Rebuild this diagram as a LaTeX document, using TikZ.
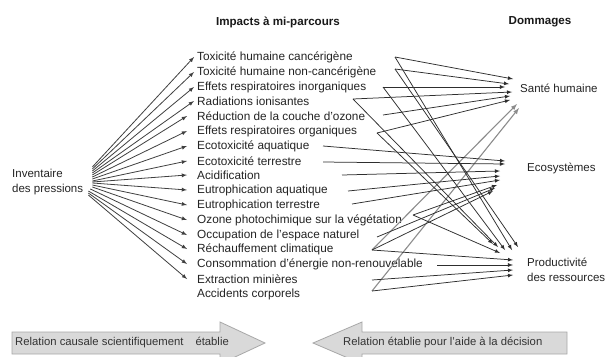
\documentclass[tikz,border=0pt]{standalone}
\usepackage{fontspec}
\setmainfont{Liberation Sans}
\usepackage{xcolor}
\usepackage{tikz}
\usetikzlibrary{arrows,positioning}

\definecolor{inkgray}{HTML}{242424}
\definecolor{linegray}{HTML}{2E2E2E}
\definecolor{boxfill}{HTML}{D9D9D9}
\definecolor{boxline}{HTML}{A8A8A8}

\tikzset{
  impact/.style={anchor=west, inner sep=1pt, text=inkgray, font=\fontsize{11.8}{13}\selectfont},
  damage/.style={anchor=west, inner sep=1pt, align=left, text=inkgray, font=\fontsize{11.5}{15}\selectfont},
  heading/.style={inner sep=1pt, text=black!90, font=\fontsize{11.6}{13}\selectfont\bfseries},
  fan/.style={->, >=latex, draw=black!75, line width=0.8pt},
  link/.style={->, >=latex, draw=linegray, line width=0.75pt},
  palelink/.style={->, >=latex, draw=black!45, line width=1.1pt},
  banner/.style={fill=boxfill, draw=boxline, line width=0.8pt},
  bannertext/.style={anchor=west, inner sep=1pt, text=black!80, font=\fontsize{11.3}{13}\selectfont},
}

\begin{document}
\begin{tikzpicture}[x=1pt, y=-1pt]
        \useasboundingbox[fill=white] (0,0) rectangle (607,356);

        % titres
        \node[heading] (midtitle) at (278,22) {Impacts à mi-parcours};
        \node[heading] (damtitle) at (540,22) {Dommages};

        % inventaire
        \node[damage] (inv) at (11,182) {Inventaire\\des pressions};

        % impacts a mi-parcours
        \node[impact] (i1) at (196,57) {Toxicité humaine cancérigène};
        \node[impact] (i2) at (196,72) {Toxicité humaine non-cancérigène};
        \node[impact] (i3) at (196,87) {Effets respiratoires inorganiques};
        \node[impact] (i4) at (196,101) {Radiations ionisantes};
        \node[impact] (i5) at (196,116) {Réduction de la couche d'ozone};
        \node[impact] (i6) at (196,131) {Effets respiratoires organiques};
        \node[impact] (i7) at (196,146) {Ecotoxicité aquatique};
        \node[impact] (i8) at (196,161) {Ecotoxicité terrestre};
        \node[impact] (i9) at (196,175) {Acidification};
        \node[impact] (i10) at (196,190) {Eutrophication aquatique};
        \node[impact] (i11) at (196,205) {Eutrophication terrestre};
        \node[impact] (i12) at (196,220) {Ozone photochimique sur la végétation};
        \node[impact] (i13) at (196,235) {Occupation de l'espace naturel};
        \node[impact] (i14) at (196,249) {Réchauffement climatique};
        \node[impact] (i15) at (196,264) {Consommation d'énergie non-renouvelable};
        \node[impact] (i16) at (196,279) {Extraction minières};
        \node[impact] (i17) at (196,294) {Accidents corporels};

        % dommages
        \node[damage] (sante) at (519,88) {Santé humaine};
        \node[damage] (eco) at (526,168) {Ecosystèmes};
        \node[damage] (prod) at (526,270) {Productivité\\des ressources};

        % inventaire -> impacts
        \draw[fan] ([xshift=8pt,yshift=15pt]inv.east) -- ([xshift=-2pt]i1.west);
        \draw[fan] ([xshift=8pt,yshift=13pt]inv.east) -- ([xshift=-2pt]i2.west);
        \draw[fan] ([xshift=8pt,yshift=11pt]inv.east) -- ([xshift=-2pt]i3.west);
        \draw[fan] ([xshift=8pt,yshift=9pt]inv.east) -- ([xshift=-2pt]i4.west);
        \draw[fan] ([xshift=8pt,yshift=7pt]inv.east) -- ([xshift=-9pt]i5.west);
        \draw[fan] ([xshift=8pt,yshift=5pt]inv.east) -- ([xshift=-9pt]i6.west);
        \draw[fan] ([xshift=8pt,yshift=3pt]inv.east) -- ([xshift=-9pt]i7.west);
        \draw[fan] ([xshift=8pt,yshift=1pt]inv.east) -- ([xshift=-9pt]i8.west);
        \draw[fan] ([xshift=8pt,yshift=0pt]inv.east) -- ([xshift=-9pt]i9.west);
        \draw[fan] ([xshift=8pt,yshift=-1pt]inv.east) -- ([xshift=-9pt]i10.west);
        \draw[fan] ([xshift=8pt,yshift=-3pt]inv.east) -- ([xshift=-9pt]i11.west);
        \draw[fan] ([xshift=8pt,yshift=-5pt]inv.east) -- ([xshift=-9pt]i12.west);
        \draw[fan] ([xshift=6pt,yshift=-7pt]inv.east) -- ([xshift=-9pt]i13.west);
        \draw[fan] ([xshift=4pt,yshift=-9pt]inv.east) -- ([xshift=-9pt]i14.west);
        \draw[fan] ([xshift=4pt,yshift=-11pt]inv.east) -- ([xshift=-9pt]i15.west);
        \draw[fan] ([xshift=4pt,yshift=-13pt]inv.east) -- ([xshift=-9pt]i16.west);

        % points de depart vers les dommages
        \coordinate (o1) at (395,57);
        \coordinate (o2) at (395,69);
        \coordinate (o3) at (383,87);
        \coordinate (o4) at (353,99);
        \coordinate (o5) at (383,115);
        \coordinate (o6) at (377,133);
        \coordinate (o7) at (323,146);
        \coordinate (o8) at (323,162);
        \coordinate (o9) at (342,175);
        \coordinate (o10) at (348,191);
        \coordinate (o11) at (352,204);
        \coordinate (o12) at (413,215);
        \coordinate (o13) at (377,237);
        \coordinate (o14) at (372,250);
        \coordinate (o15) at (437,265);
        \coordinate (o16) at (372,280);
        \coordinate (o17) at (372,291);

        % -> sante humaine
        \draw[link] (o1) -- ([shift={(-6,-9)}]sante.west);
        \draw[link] (o2) -- ([shift={(-10,-4)}]sante.west);
        \draw[link] (o3) -- ([shift={(-14,-1)}]sante.west);
        \draw[link] (o4) -- ([shift={(-7,4)}]sante.west);
        \draw[link] (o5) -- ([shift={(-9,8)}]sante.west);
        \draw[link] (o6) -- ([shift={(-9,12)}]sante.west);
        \draw[palelink] (o14) -- ([shift={(-2,16)}]sante.west);
        \draw[palelink] (o17) -- ([shift={(0,20)}]sante.west);

        % -> ecosystemes
        \draw[link] (o7) -- ([shift={(-21,-7)}]eco.west);
        \draw[link] (o8) -- ([shift={(-21,-4)}]eco.west);
        \draw[link] (o9) -- ([shift={(-26,3)}]eco.west);
        \draw[link] (o10) -- ([shift={(-26,8)}]eco.west);
        \draw[link] (o11) -- ([shift={(-26,12)}]eco.west);
        \draw[link] (o12) -- ([shift={(-29,17)}]eco.west);
        \draw[link] (o13) -- ([shift={(-31,20)}]eco.west);
        \draw[link] (o14) -- ([shift={(-33,23)}]eco.west);

        % -> productivite des ressources
        \draw[link] (o1) -- ([shift={(-14,-20)}]prod.west);
        \draw[link] (o2) -- ([shift={(-8,-23)}]prod.west);
        \draw[link] (o3) -- ([shift={(-21,-20)}]prod.west);
        \draw[link] (o4) -- ([shift={(-28,-23)}]prod.west);
        \draw[link] (o6) -- ([shift={(-33,-26)}]prod.west);
        \draw[link] (o12) -- ([shift={(-26,-17)}]prod.west);
        \draw[link] (o14) -- ([shift={(-13,-10)}]prod.west);
        \draw[link] (o15) -- ([shift={(-13,-5)}]prod.west);
        \draw[link] (o16) -- ([shift={(-13,0)}]prod.west);
        \draw[link] (o17) -- ([shift={(-13,5)}]prod.west);

        % fleches du bas
        \draw[banner] (12,332) -- (220,332) -- (220,322) -- (265,343) -- (220,364) -- (220,354) -- (12,354) -- cycle;
        \draw[banner] (567,332) -- (362,332) -- (362,322) -- (313,343) -- (362,364) -- (362,354) -- (567,354) -- cycle;
        \node[bannertext] (cause) at (14,343) {Relation causale scientifiquement\hspace{12pt}établie};
        \node[bannertext] (aide) at (342,343) {Relation établie pour l'aide à la décision};
    \end{tikzpicture}
\end{document}
